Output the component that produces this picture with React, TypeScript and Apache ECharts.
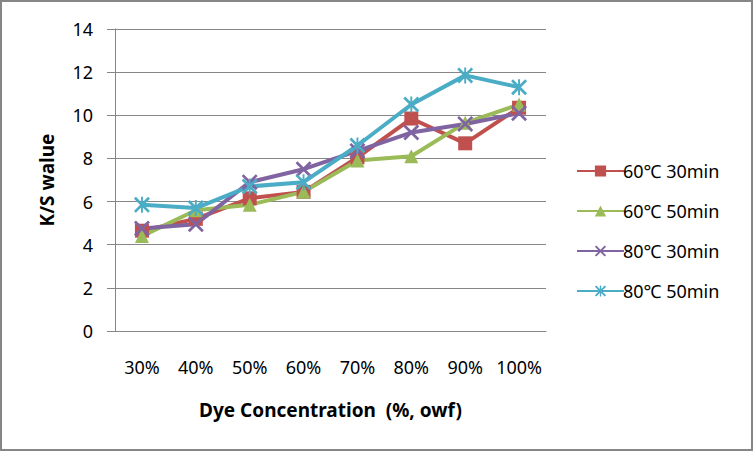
import React, { useEffect, useRef } from "react";
import * as echarts from "echarts";

const categories = ["30%", "40%", "50%", "60%", "70%", "80%", "90%", "100%"];
const seriesNames = ["60℃ 30min", "60℃ 50min", "80℃ 30min", "80℃ 50min"];
const s60_30 = [4.65, 5.2, 6.15, 6.45, 8.05, 9.85, 8.7, 10.35];
const s60_50 = [4.4, 5.6, 5.85, 6.45, 7.9, 8.1, 9.65, 10.5];
const s80_30 = [4.75, 4.95, 6.9, 7.5, 8.35, 9.2, 9.6, 10.1];
const s80_50 = [5.85, 5.7, 6.7, 6.9, 8.6, 10.5, 11.85, 11.3];
const yTicks = [0, 2, 4, 6, 8, 10, 12, 14];

const colors = ["#C0504D", "#9BBB59", "#8064A2", "#4BACC6"];
const FONT = "'Noto Sans', 'Noto Sans CJK KR', sans-serif";

const X_PATH = "path://M0,1.2 L1.2,0 L10,8.8 L8.8,10 Z M8.8,0 L10,1.2 L1.2,10 L0,8.8 Z";
const STAR_PATH =
  "path://M0,1.2 L1.2,0 L10,8.8 L8.8,10 Z M8.8,0 L10,1.2 L1.2,10 L0,8.8 Z M4.4,0 L5.6,0 L5.6,10 L4.4,10 Z";

export default function App() {
  const ref = useRef<HTMLDivElement>(null);
  useEffect(() => {
    if (!ref.current) return;
    const chart = echarts.init(ref.current, undefined, { renderer: "svg" });
    const data = [s60_30, s60_50, s80_30, s80_50];
    const symbols = ["rect", "triangle", X_PATH, STAR_PATH];
    const sizes = [14, 14, 16, 16];
    chart.setOption({
      animation: false,
      backgroundColor: "#ffffff",
      textStyle: { fontFamily: FONT },
      grid: { left: 115, right: 207, top: 29, bottom: 120 },
      graphic: [
        {
          type: "rect",
          shape: { x: 1, y: 1, width: 751, height: 449 },
          style: { fill: "none", stroke: "#868686", lineWidth: 2 },
          silent: true,
        },
      ],
      legend: {
        orient: "vertical",
        left: 571,
        top: 156,
        itemGap: 20,
        itemWidth: 47,
        itemHeight: 14,
        data: seriesNames,
        textStyle: {
          fontFamily: FONT,
          fontSize: 18,
          lineHeight: 20,
          color: "#000",
          padding: [0, 0, 0, -6],
        },
      },
      xAxis: {
        type: "category",
        data: categories,
        boundaryGap: true,
        axisLine: { show: true, lineStyle: { color: "#868686", width: 1 } },
        axisTick: { show: false },
        axisLabel: { fontFamily: FONT, fontSize: 18, color: "#000", margin: 27, interval: 0 },
        name: "Dye Concentration  (%, owf)",
        nameLocation: "middle",
        nameGap: 69,
        nameTextStyle: { fontFamily: FONT, fontSize: 19, fontWeight: "bold", color: "#000" },
      },
      yAxis: {
        type: "value",
        min: 0,
        max: 14,
        interval: 2,
        axisLine: { show: true, lineStyle: { color: "#868686", width: 1 } },
        axisTick: { show: true, length: 8, lineStyle: { color: "#868686" } },
        splitLine: { show: true, lineStyle: { color: "#868686", width: 1 } },
        axisLabel: {
          fontFamily: FONT,
          fontSize: 18,
          color: "#000",
          margin: 22,
          formatter: (v: number) => (yTicks.includes(v) ? String(v) : ""),
        },
        name: "K/S walue",
        nameLocation: "middle",
        nameGap: 59,
        nameRotate: 90,
        nameTextStyle: { fontFamily: FONT, fontSize: 19, fontWeight: "bold", color: "#000" },
      },
      series: seriesNames.map((name, i) => ({
        name,
        type: "line",
        data: data[i],
        symbol: symbols[i],
        symbolSize: sizes[i],
        showAllSymbol: true,
        lineStyle: { color: colors[i], width: 4 },
        itemStyle: { color: colors[i], borderWidth: 0 },
        emphasis: { disabled: true },
      })),
    });
    return () => chart.dispose();
  }, []);
  return (
    <div
      ref={ref}
      style={{ position: "fixed", left: 0, top: 0, width: 753, height: 451 }}
    />
  );
}
